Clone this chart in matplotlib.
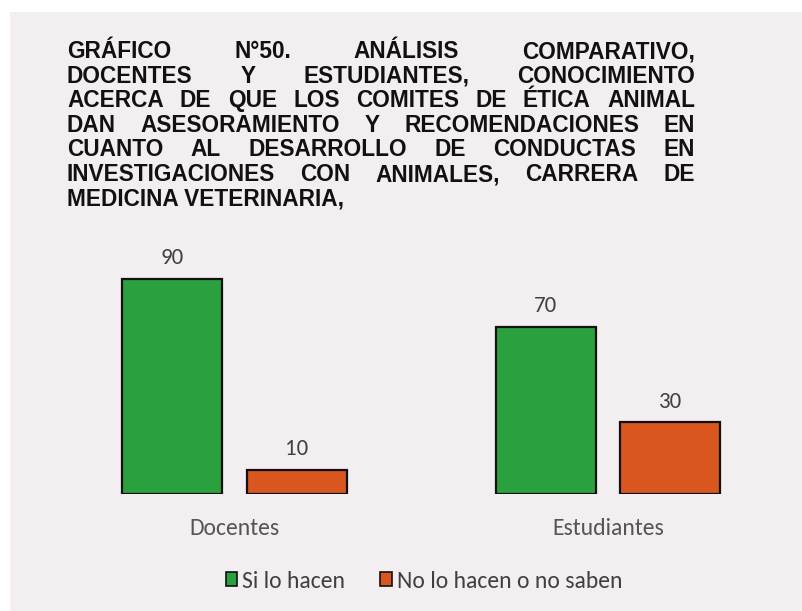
import matplotlib.pyplot as plt
from matplotlib.patches import Rectangle
import numpy as np

# data
categories = ["Docentes", "Estudiantes"]
series_names = ["Si lo hacen", "No lo hacen o no saben"]
si_values = [90, 70]
no_values = [10, 30]
colors = ["#2aa03f", "#d9561f"]

title_lines = [
    "GRÁFICO N°50. ANÁLISIS COMPARATIVO,",
    "DOCENTES Y ESTUDIANTES, CONOCIMIENTO",
    "ACERCA DE QUE LOS COMITES DE ÉTICA ANIMAL",
    "DAN ASESORAMIENTO Y RECOMENDACIONES EN",
    "CUANTO AL DESARROLLO DE CONDUCTAS EN",
    "INVESTIGACIONES CON ANIMALES, CARRERA DE",
    "MEDICINA VETERINARIA,",
]

W, H = 803, 611
body = ["Carlito", "Lato", "DejaVu Sans"]
fig = plt.figure(figsize=(W / 100, H / 100), dpi=100, facecolor="white")
fig.patches.append(Rectangle((10 / W, 0), 1, 1 - 12 / H, transform=fig.transFigure,
                             facecolor="#f3eff0", edgecolor="none", zorder=-10))

# axes placed in pixels: baseline at y=494, 100 units -> 239 px
ax = fig.add_axes([47.75 / W, (H - 494) / H, 747 / W, 239 / H])
ax.set_facecolor("none")
x = np.arange(len(categories))
bw = 0.268
off = 0.167
b1 = ax.bar(x - off, si_values, bw, color=colors[0], edgecolor="#111111", linewidth=1.6,
            label=series_names[0])
b2 = ax.bar(x + off, no_values, bw, color=colors[1], edgecolor="#111111", linewidth=1.6,
            label=series_names[1])
ax.set_xlim(-0.5, 1.5)
ax.set_ylim(0, 100)
for bars in (b1, b2):
    for r in bars:
        ax.text(r.get_x() + r.get_width() / 2, r.get_height() + 4.5, str(int(r.get_height())),
                ha="center", va="bottom", fontsize=16.5, color="#404040", family=body)
for s in ax.spines.values():
    s.set_visible(False)
ax.set_yticks([])
ax.set_xticks(x)
ax.set_xticklabels(categories, fontsize=17, color="#555555", family=body)
ax.tick_params(axis="x", length=0, pad=17)

leg = fig.legend(loc="center", bbox_to_anchor=(424 / W, 1 - 581 / H), ncol=2, frameon=False,
                 prop={"family": body, "size": 17}, handlelength=0.5, handleheight=0.5,
                 handletextpad=0.2, columnspacing=1.5, labelcolor="#404040")
for h in leg.legend_handles:
    h.set_linewidth(1.2)

# justified title
left, right = 67, 695
fam = ["Liberation Sans", "Arimo", "DejaVu Sans"]
fsize = 16.3
renderer = fig.canvas.get_renderer()
y0 = 51.5
for i, line in enumerate(title_lines):
    yy = 1 - (y0 + i * 24.6) / H
    words = line.split()
    if i == len(title_lines) - 1:
        fig.text(left / W, yy, line, ha="left", va="center", fontsize=fsize,
                 weight="bold", family=fam, color="#111111")
        continue
    texts = [fig.text(0, yy, w, ha="left", va="center", fontsize=fsize, weight="bold",
                      family=fam, color="#111111") for w in words]
    widths = [t.get_window_extent(renderer).width for t in texts]
    gap = (right - left - sum(widths)) / (len(words) - 1)
    pos = left
    for t, w in zip(texts, widths):
        t.set_x(pos / W)
        pos += w + gap

fig.savefig("out.png", dpi=100, facecolor=fig.get_facecolor())
